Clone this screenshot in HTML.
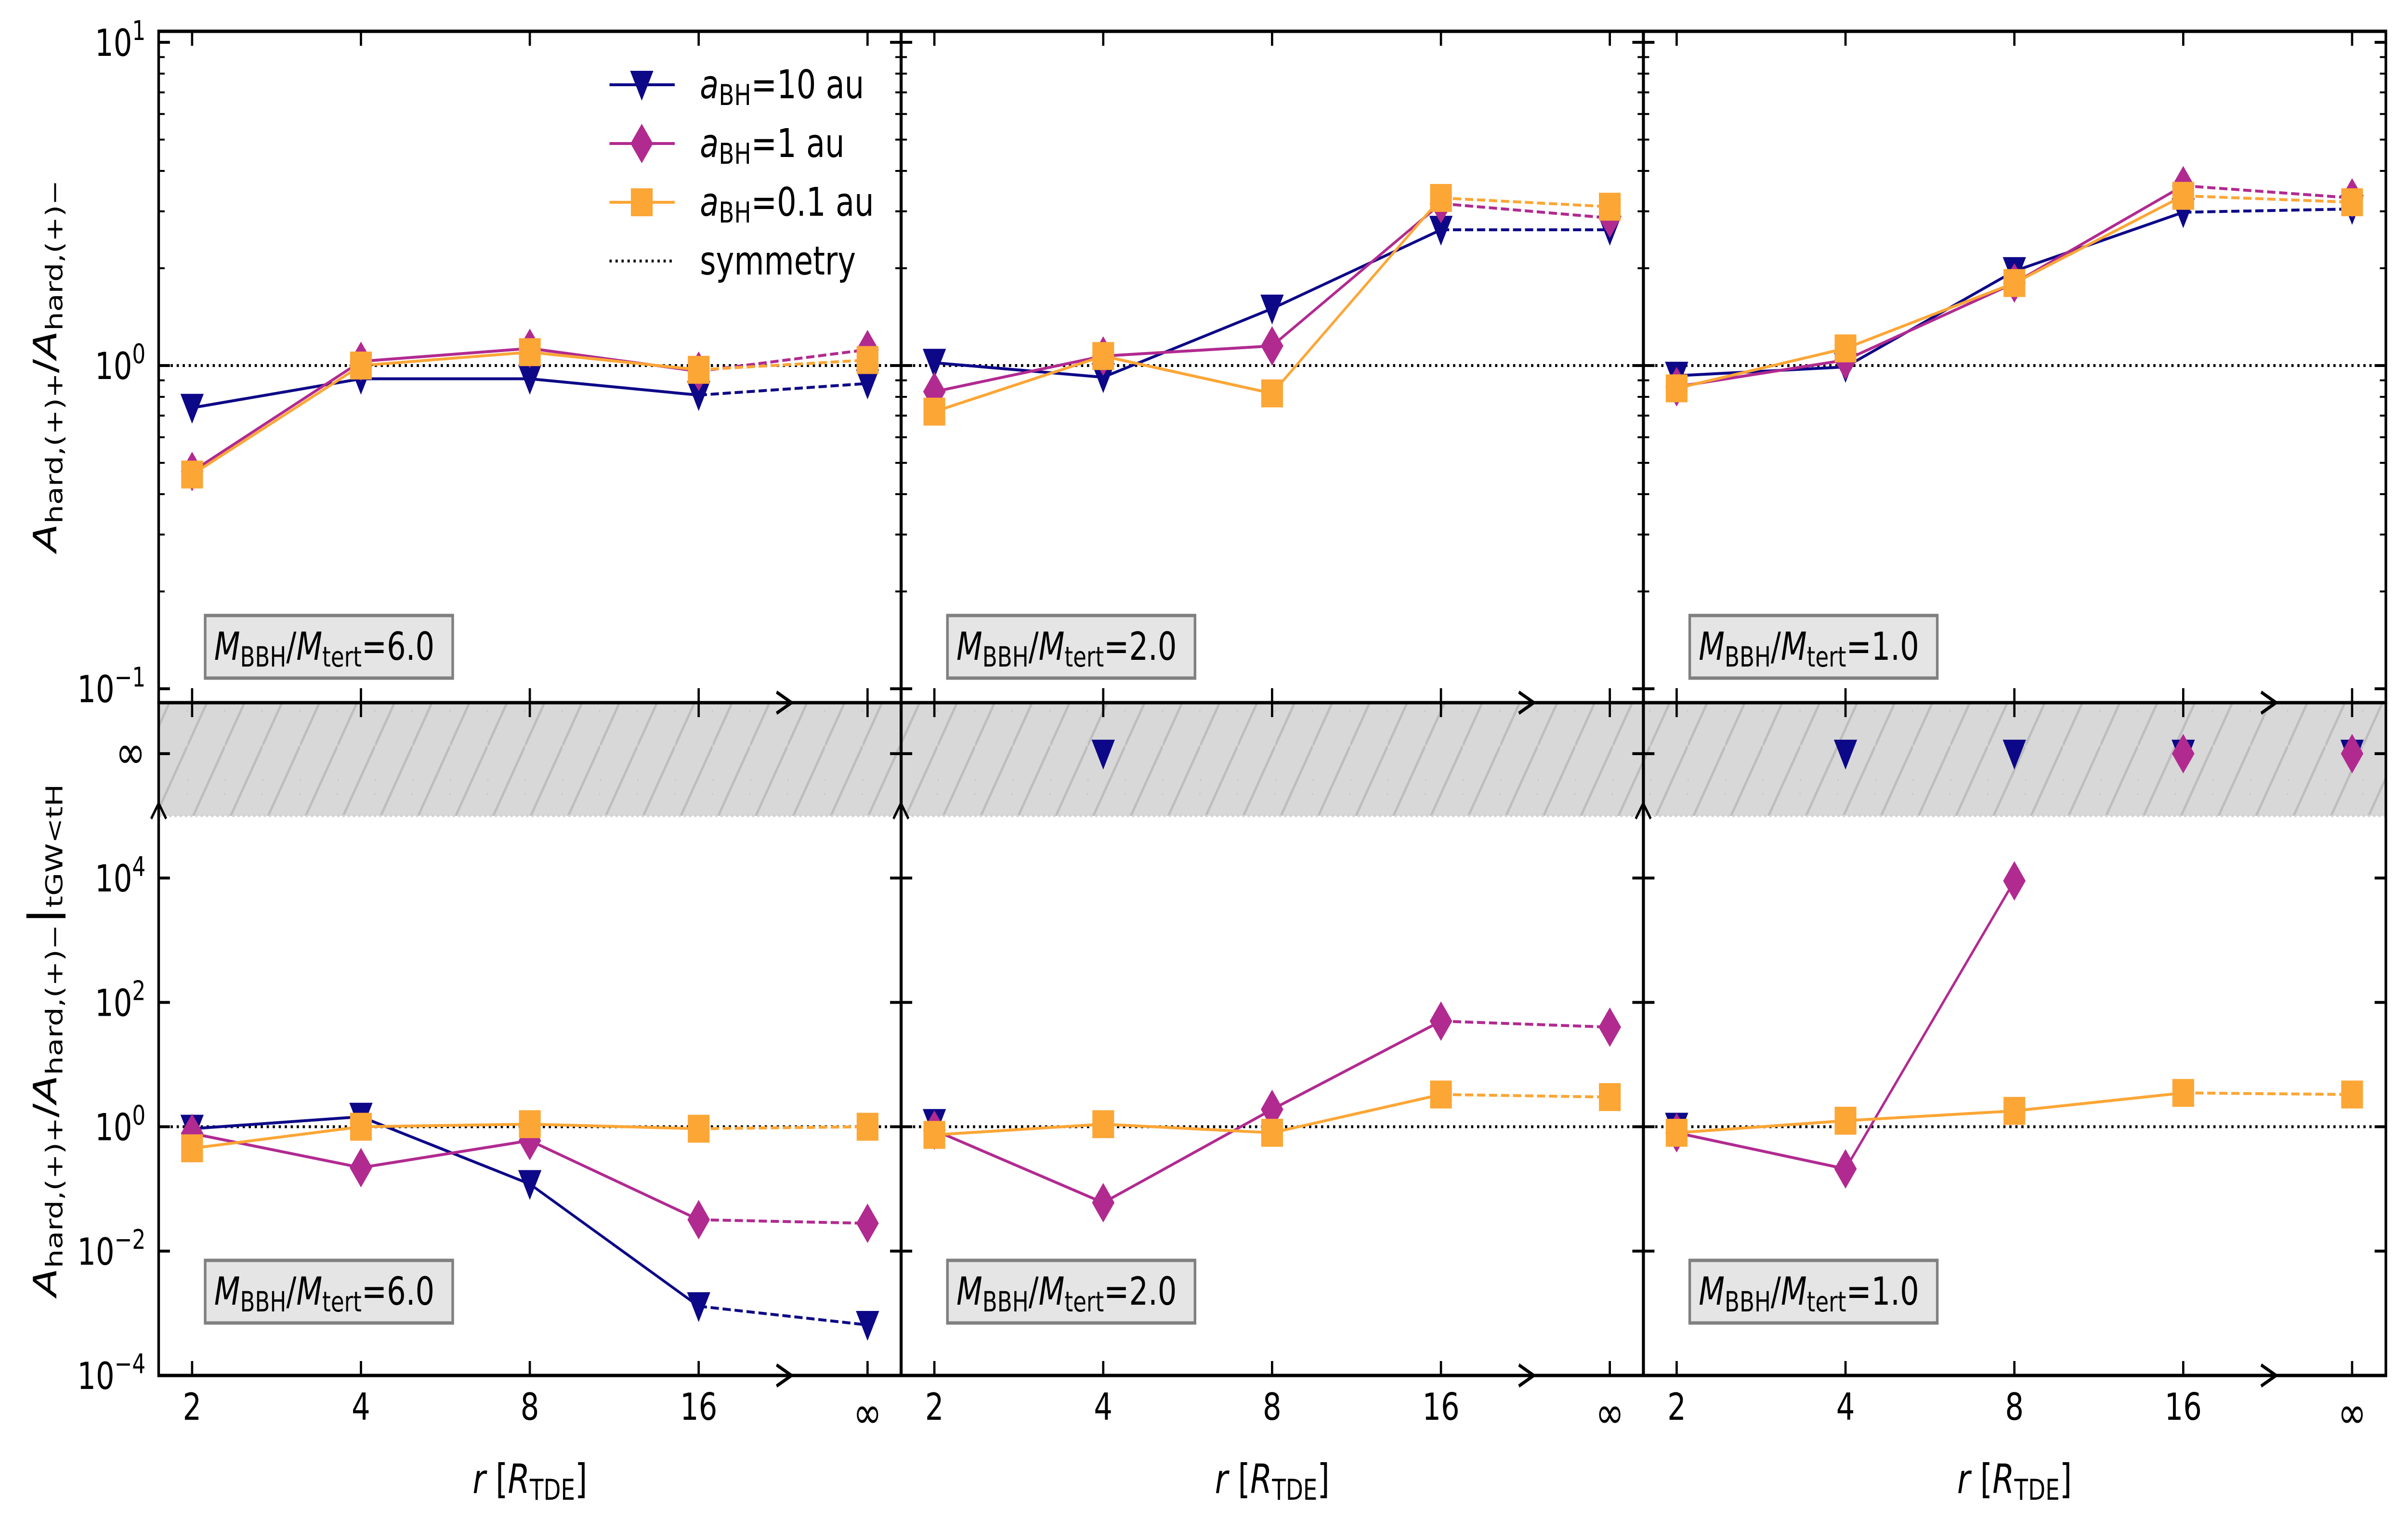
<!DOCTYPE html>
<html><head><meta charset="utf-8"><style>
html,body{margin:0;padding:0;background:#fff;width:6420px;height:3181px;overflow:hidden;}
svg{display:block;width:100vw;height:100vh;font-family:"DejaVu Sans","Liberation Sans",sans-serif;}
</style></head><body>
<svg id="chart" xmlns="http://www.w3.org/2000/svg" viewBox="0 0 6420 3181" preserveAspectRatio="none">
<defs>
<pattern id="hatch" patternUnits="userSpaceOnUse" width="100" height="172">
<rect width="100" height="172" fill="#d8d8d8"/>
<path d="M-10,189 L110,-17 M-60,172 L0,69 M100,103 L160,0" stroke="#bdbdbd" stroke-width="6"/>
</pattern>
</defs>
<g id="root"></g>
</svg>
<script>
// ---- data ----
const categories = ["2","4","8","16","∞"];
const seriesNames = ["a10","a1","a01"];
const ratios = ["6.0","2.0","1.0"];
// top row: A_hard,(+)+ / A_hard,(+)-
const top10 = [[0.74,0.91,0.91,0.81,0.88],[1.02,0.92,1.5,2.63,2.63],[0.93,0.99,1.96,2.98,3.05]];
const top1  = [[0.47,1.03,1.13,0.96,1.12],[0.83,1.07,1.15,3.17,2.86],[0.86,1.04,1.8,3.6,3.3]];
const top01 = [[0.46,1.0,1.10,0.97,1.04],[0.72,1.07,0.82,3.3,3.1],[0.85,1.13,1.8,3.35,3.2]];
// bottom row: restricted to t_GW < t_H (Infinity = off-scale, null = missing)
const bot10 = [[0.93,1.45,0.12,0.0013,0.00065],[1.15,Infinity,null,null,null],[1.0,Infinity,Infinity,Infinity,Infinity]];
const bot1  = [[0.78,0.22,0.6,0.032,0.028],[0.88,0.06,1.9,50,40],[0.8,0.21,9000,Infinity,Infinity]];
const bot01 = [[0.45,1.0,1.1,0.93,1.0],[0.74,1.1,0.8,3.3,3.0],[0.8,1.25,1.8,3.5,3.3]];
const topTicks = [-1,0,1];
const botTicks = [-4,-2,0,2,4];

const NS="http://www.w3.org/2000/svg";
const root=document.getElementById('root');
function mk(tag,attrs,parent){const e=document.createElementNS(NS,tag);for(const k in attrs)e.setAttribute(k,attrs[k]);(parent||root).appendChild(e);return e;}
const colors={a10:"#0d0887",a1:"#b12a90",a01:"#fca636"};
const PL=[423,2402,4381], PW=1980;
const TOP={y0:65,y1:1459,lmin:-1.043,lmax:1.034};
const BOT={y0:1459,y1:2856,lmin:-4,lmax:6.82};
function xpos(p,i){return PL[p]+(i+0.198)/4.398*PW;}
function ytop(v){return TOP.y1-(Math.log10(v)-TOP.lmin)/(TOP.lmax-TOP.lmin)*(TOP.y1-TOP.y0);}
function ybot(v){if(v===Infinity)v=1e6;return BOT.y1-(Math.log10(v)-BOT.lmin)/(BOT.lmax-BOT.lmin)*(BOT.y1-BOT.y0);}

function marker(kind,x,y,g){
  let e;
  if(kind==="a10"){e=mk('path',{d:`M${x-31},${y-29} L${x+31},${y-29} L${x},${y+33} Z`,fill:colors.a10},g);}
  else if(kind==="a1"){e=mk('path',{d:`M${x},${y-41} L${x+30},${y} L${x},${y+41} L${x-30},${y} Z`,fill:colors.a1},g);}
  else {e=mk('rect',{x:x-29,y:y-29,width:58,height:58,fill:colors.a01},g);}
  return e;
}
function sup(t,base,exp,size){
  const a=mk('tspan',{},t);a.textContent=base;
  const b=mk('tspan',{dy:-size*0.42,'font-size':size*0.72},t);b.textContent=exp;
}

// hatch band
for(let p=0;p<3;p++){
  const h=mk('rect',{x:PL[p],y:1462,width:PW,height:232,fill:"url(#hatch)"});
  
  
  const d=mk('line',{x1:PL[p],x2:PL[p]+PW,y1:1694,y2:1694,stroke:"#d0d0d0","stroke-width":5,"stroke-dasharray":"6,8"});
  
  
}

function drawRow(p,rowData,yf,rowName){
  const g=mk('g',{});
  
  
  const s=mk('line',{x1:PL[p],x2:PL[p]+PW,y1:yf(1),y2:yf(1),stroke:"#000","stroke-width":6,"stroke-dasharray":"6,10"},g);
  
  
  seriesNames.forEach((sn,k)=>{
    const vals=rowData[k][p];
    for(let i=0;i<4;i++){
      const a=vals[i],b=vals[i+1];
      if(a==null||b==null||!isFinite(a)||!isFinite(b))continue;
      const ln=mk('line',{x1:xpos(p,i),y1:yf(a),x2:xpos(p,i+1),y2:yf(b),stroke:colors[sn],"stroke-width":6},g);
      if(i===3)ln.setAttribute('stroke-dasharray','22,10');
      
      
    }
  });
  seriesNames.forEach((sn,k)=>{
    const vals=rowData[k][p];
    vals.forEach((v,i)=>{
      if(v==null)return;
      const m=marker(sn,xpos(p,i),yf(v),g);
      
      
    });
  });
}

for(let p=0;p<3;p++){
  drawRow(p,[top10,top1,top01],ytop,'top');
  drawRow(p,[bot10,bot1,bot01],ybot,'bottom');
}

for(let p=0;p<3;p++){
  const L=PL[p],R=PL[p]+PW;
  [[TOP.y0,TOP.y1,'top'],[BOT.y0,BOT.y1,'bottom']].forEach(([y0,y1,nm])=>{
    const fr=mk('rect',{x:L,y:y0,width:PW,height:y1-y0,fill:"none",stroke:"#000","stroke-width":7});
    
    
    for(let i=0;i<5;i++){
      const x=xpos(p,i);
      mk('line',{x1:x,x2:x,y1:y0,y2:y0+30,stroke:"#000","stroke-width":6});
      mk('line',{x1:x,x2:x,y1:y1,y2:y1-30,stroke:"#000","stroke-width":6});
    }
    const ax=xpos(p,3.55);
    const ar=mk('path',{d:`M${ax-40},${y1-22} L${ax},${y1} L${ax-40},${y1+22}`,fill:"none",stroke:"#000","stroke-width":7});
    
    
  });
  for(let d=-2;d<=1;d++){
    for(let m=1;m<10;m++){
      const v=m*Math.pow(10,d);const lv=Math.log10(v);
      if(lv<TOP.lmin||lv>TOP.lmax)continue;
      const len=m===1?30:16;
      const y=ytop(v);
      mk('line',{x1:L,x2:L+len,y1:y,y2:y,stroke:"#000","stroke-width":m===1?6:4});
      mk('line',{x1:R,x2:R-len,y1:y,y2:y,stroke:"#000","stroke-width":m===1?6:4});
    }
  }
  botTicks.concat([6]).forEach(t=>{
    const y=ybot(Math.pow(10,t));
    mk('line',{x1:L,x2:L+30,y1:y,y2:y,stroke:"#000","stroke-width":6});
    mk('line',{x1:R,x2:R-30,y1:y,y2:y,stroke:"#000","stroke-width":6});
  });
  const up=mk('path',{d:`M${L-20},${1700} L${L},${1668} L${L+20},${1700}`,fill:"none",stroke:"#000","stroke-width":6});
  
  
  categories.forEach((c,i)=>{
    const t=mk('text',{x:xpos(p,i),y:i===4?2965:2948,'text-anchor':'middle','font-size':i===4?92:78});
    t.textContent=c;
    
    
  });
  const xt=mk('text',{x:L+PW/2,y:3100,'text-anchor':'middle','font-size':84});
  
  
  const r1=mk('tspan',{'font-style':'italic'},xt);r1.textContent='r';
  const r2=mk('tspan',{},xt);r2.textContent=' [';
  const r3=mk('tspan',{'font-style':'italic'},xt);r3.textContent='R';
  const r4=mk('tspan',{dy:14,'font-size':60},xt);r4.textContent='TDE';
  const r5=mk('tspan',{dy:-14},xt);r5.textContent=']';
  [1278,2617].forEach((by,j)=>{
    const g=mk('g',{});
    
    
    mk('rect',{x:L+124,y:by,width:660,height:130,fill:"#e5e5e5",stroke:"#808080","stroke-width":7},g);
    const t=mk('text',{x:L+148,y:by+92,'font-size':80},g);
    const a=mk('tspan',{'font-style':'italic'},t);a.textContent='M';
    const b=mk('tspan',{dy:14,'font-size':58},t);b.textContent='BBH';
    const c=mk('tspan',{dy:-14},t);c.textContent='/';
    const d=mk('tspan',{'font-style':'italic'},t);d.textContent='M';
    const e=mk('tspan',{dy:14,'font-size':58},t);e.textContent='tert';
    const f=mk('tspan',{dy:-14},t);f.textContent='='+ratios[p];
  });
}

topTicks.forEach(t=>{
  const tx=mk('text',{x:388,y:ytop(Math.pow(10,t))+28,'text-anchor':'end','font-size':78});
  
  
  sup(tx,'10',String(t).replace('-','−'),78);
});
botTicks.forEach(t=>{
  const tx=mk('text',{x:388,y:ybot(Math.pow(10,t))+28,'text-anchor':'end','font-size':78});
  
  
  sup(tx,'10',String(t).replace('-','−'),78);
});
const inf=mk('text',{x:388,y:ybot(1e6)+30,'text-anchor':'end','font-size':96});
inf.textContent='∞';



function ylab(cy,extra,name){
  const t=mk('text',{x:0,y:0,'text-anchor':'middle','font-size':86,transform:`translate(150,${cy}) rotate(-90)`});
  
  
  const a=mk('tspan',{'font-style':'italic'},t);a.textContent='A';
  const b=mk('tspan',{dy:16,'font-size':62},t);b.textContent='hard,(+)+';
  const c=mk('tspan',{dy:-16},t);c.textContent='/';
  const d=mk('tspan',{'font-style':'italic'},t);d.textContent='A';
  const e=mk('tspan',{dy:16,'font-size':62},t);e.textContent='hard,(+)−';
  if(extra){
    const f=mk('tspan',{dy:-16,'font-size':104},t);f.textContent='|';
    const g2=mk('tspan',{dy:16,'font-size':62},t);g2.textContent='tGW<tH';
  }
}
ylab(760,false,'top-y-axis-title');
ylab(2160,true,'bottom-y-axis-title');

const leg=mk('g',{});


const legLabels=[['a10','10 au'],['a1','1 au'],['a01','0.1 au']];
legLabels.forEach(([sn,lab],k)=>{
  const y=176+122*k;
  const e=mk('g',{},leg);
  
  
  mk('line',{x1:1625,x2:1799,y1:y,y2:y,stroke:colors[sn],"stroke-width":6},e);
  marker(sn,1711,y,e);
  const t=mk('text',{x:1866,y:y+28,'font-size':82},e);
  const a=mk('tspan',{'font-style':'italic'},t);a.textContent='a';
  const b=mk('tspan',{dy:14,'font-size':60},t);b.textContent='BH';
  const c=mk('tspan',{dy:-14},t);c.textContent='='+lab;
});
const es=mk('g',{},leg);


mk('line',{x1:1625,x2:1799,y1:542,y2:542,stroke:"#000","stroke-width":6,"stroke-dasharray":"6,10"},es);
const st=mk('text',{x:1866,y:570,'font-size':82},es);st.textContent='symmetry';
</script>
</body></html>
